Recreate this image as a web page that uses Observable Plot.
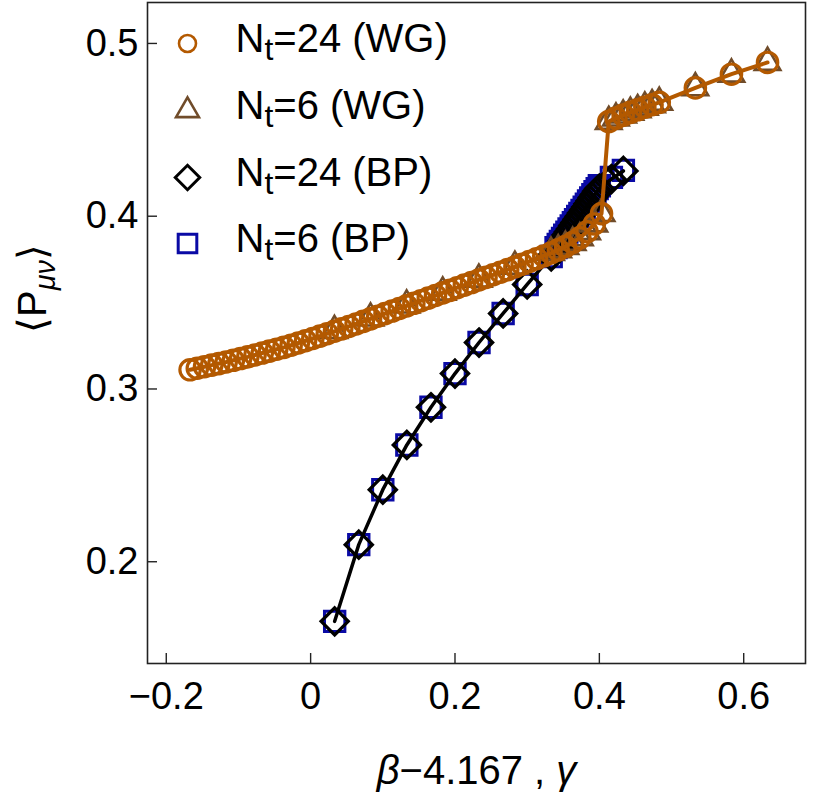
<!DOCTYPE html>
<html><head><meta charset="utf-8">
<script src="https://cdn.jsdelivr.net/npm/d3@7"></script>
<script src="https://cdn.jsdelivr.net/npm/@observablehq/plot@0.6"></script>
<style>body{margin:0;background:#fff}</style>
</head><body><div id="chart"></div>
<script>
// ---- data ----
const wg24X = [-0.167,-0.157,-0.147,-0.137,-0.127,-0.117,-0.107,-0.097,-0.087,-0.077,
  -0.067,-0.057,-0.047,-0.037,-0.027,-0.017,-0.007,0.003,0.013,0.023,
  0.033,0.043,0.053,0.063,0.073,0.083,0.093,0.103,0.113,0.123,
  0.133,0.143,0.153,0.163,0.173,0.183,0.193,0.203,0.213,0.223,
  0.233,0.243,0.253,0.263,0.273,0.283,0.293,0.303,0.313,0.323,
  0.333,0.343,0.353,0.363,0.373,0.383,0.393,0.403,
  0.413,0.423,0.433,0.443,0.453,0.463,0.473,0.483,0.533,0.583,0.633];
const wg24Y = [0.3111,0.3120,0.3129,0.3138,0.3147,0.3156,0.3166,0.3176,0.3186,0.3197,
  0.3208,0.3219,0.3230,0.3241,0.3253,0.3266,0.3279,0.3292,0.3306,0.3320,
  0.3334,0.3348,0.3362,0.3376,0.3391,0.3406,0.3421,0.3436,0.3451,0.3466,
  0.3481,0.3496,0.3511,0.3526,0.3541,0.3556,0.3571,0.3586,0.3601,0.3616,
  0.3631,0.3646,0.3661,0.3676,0.3691,0.3706,0.3722,0.3738,0.3754,0.3770,
  0.3787,0.3805,0.3825,0.3848,0.3875,0.3910,0.3955,0.4015,
  0.4548,0.4568,0.4585,0.4601,0.4616,0.4631,0.4645,0.4659,0.4743,0.4822,0.4890];
const wg6X = [0.033,0.083,0.133,0.183,0.233,0.283,0.333,
  0.343,0.353,0.363,0.373,0.383,0.393,0.403,
  0.413,0.423,0.433,0.443,0.453,0.463,0.473,0.483,0.533,0.583,0.633];
const wg6Y = [0.3338,0.3410,0.3485,0.3560,0.3635,0.3710,0.3790,
  0.3805,0.3825,0.3848,0.3875,0.3910,0.3955,0.4015,
  0.4548,0.4568,0.4585,0.4601,0.4616,0.4631,0.4645,0.4659,0.4743,0.4822,0.4890];
const bpX = [0.0333,0.0667,0.1000,0.1333,0.1667,0.2000,0.2333,0.2667,0.3000,0.3333,
  0.340,0.343,0.346,0.349,0.352,0.355,0.358,0.361,0.364,0.367,0.370,0.373,0.376,0.379,
  0.382,0.385,0.388,0.391,0.394,0.397,0.400,0.4167,0.4333];
const bp24Y = [0.1655,0.2099,0.2417,0.2676,0.2894,0.3089,0.3269,0.3437,0.3605,0.3767,
  0.3802,0.3820,0.3838,0.3856,0.3874,0.3892,0.3910,0.3928,0.3946,0.3964,0.3982,0.4000,0.4018,0.4036,
  0.4054,0.4072,0.4090,0.4108,0.4126,0.4144,0.4160,0.4215,0.4262];
const bp6Y = [0.1655,0.2099,0.2417,0.2676,0.2894,0.3089,0.3269,0.3437,0.3605,0.3767,
  0.3818,0.3836,0.3854,0.3872,0.3890,0.3908,0.3926,0.3944,0.3962,0.3980,0.3998,0.4016,0.4034,0.4052,
  0.4070,0.4088,0.4106,0.4124,0.4142,0.4160,0.4176,0.4225,0.4265];
const xTicks = [-0.2, 0, 0.2, 0.4, 0.6];
const yTicks = [0.2, 0.3, 0.4, 0.5];
const legendMain = ["N", "N", "N", "N"];
const legendSub = ["t", "t", "t", "t"];
const legendRest = ["=24 (WG)", "=6 (WG)", "=24 (BP)", "=6 (BP)"];
const xLabel = ["\u03b2", "\u22124.167 , ", "\u03b3"];
const yLabel = ["\u27e8P", "\u03bc\u03bd", "\u27e9"];

// ---- styling ----
const ORANGE = "#b35900", BROWN = "#704c2a", BLUE = "#0a0aa5", BLACK = "#000";
const wg24 = wg24X.map((x, i) => ({x, y: wg24Y[i]}));
const wg6 = wg6X.map((x, i) => ({x, y: wg6Y[i]}));
const bp24 = bpX.map((x, i) => ({x, y: bp24Y[i]}));
const bp6 = bpX.map((x, i) => ({x, y: bp6Y[i]}));
const fmt = d => d === 0 ? "0" : (d < 0 ? "\u2212" : "") + Math.abs(d).toFixed(1);

const legendMarks = [
  {symbol: "circle", r: 8.5, stroke: ORANGE, sw: 2.6},
  {symbol: "triangle", r: 8.5, stroke: BROWN, sw: 2.6},
  {symbol: "diamond2", r: 11, stroke: BLACK, sw: 3},
  {symbol: "square", r: 10.5, stroke: BLUE, sw: 3}
];
const rowsDy = [41, 108, 175, 241];

const marks = [
  Plot.tickX(xTicks, {x: d => d, insetTop: 651, stroke: "#222", strokeWidth: 1.4}),
  Plot.tickY(yTicks, {y: d => d, insetRight: 648, stroke: "#222", strokeWidth: 1.4}),
  Plot.text(xTicks, {x: d => d, text: fmt, frameAnchor: "bottom", lineAnchor: "top", dy: 19, fontSize: 38}),
  Plot.text(yTicks, {y: d => d, text: fmt, frameAnchor: "left", textAnchor: "end", dx: -9, fontSize: 38}),
  // BP
  Plot.dot(bp6, {x: "x", y: "y", symbol: "square", r: 11.5, stroke: BLUE, strokeWidth: 3, fill: "none"}),
  Plot.dot(bp24, {x: "x", y: "y", symbol: "diamond2", r: 12.2, stroke: BLACK, strokeWidth: 3.3, fill: "none"}),
  Plot.line(bp24, {x: "x", y: "y", stroke: BLACK, strokeWidth: 3.5}),
  // WG
  Plot.dot(wg6, {x: "x", y: "y", symbol: "triangle", r: 9.5, stroke: BROWN, strokeWidth: 2.6, fill: "none"}),
  Plot.dot(wg24, {x: "x", y: "y", symbol: "circle", r: 10.2, stroke: ORANGE, strokeWidth: 3.2, fill: "none"}),
  Plot.line(wg24, {x: "x", y: "y", stroke: ORANGE, strokeWidth: 4}),
  Plot.frame({stroke: "#222", strokeWidth: 1.6}),
  // axis titles
  Plot.text([xLabel.join("")], {frameAnchor: "bottom", dy: 108, lineAnchor: "middle", fontSize: 40}),
  Plot.text([yLabel.join("")], {frameAnchor: "left", dx: -114, rotate: -90, lineAnchor: "middle", fontSize: 40})
];
legendMarks.forEach((m, i) => {
  marks.push(Plot.dot([0], {frameAnchor: "top-left", dx: 40, dy: rowsDy[i], symbol: m.symbol, r: m.r, stroke: m.stroke, strokeWidth: m.sw, fill: "none"}));
  marks.push(Plot.text([legendMain[i] + legendSub[i] + legendRest[i]], {frameAnchor: "top-left", dx: 88, dy: rowsDy[i] - 4, textAnchor: "start", lineAnchor: "middle", fontSize: 40}));
});

const svg = Plot.plot({
  width: 813, height: 797,
  marginLeft: 147, marginRight: 8, marginTop: 2, marginBottom: 134,
  style: {fontFamily: "'Liberation Sans', Arial, Helvetica, sans-serif", fontSize: "38px", color: "#000", background: "#fff"},
  x: {domain: [-0.226, 0.6856], axis: null},
  y: {domain: [0.1411, 0.5237], axis: null},
  marks
});

// rich text: subscripts and italics (matched by content)
d3.select(svg).selectAll("text").each(function () {
  const t = d3.select(this);
  const s = this.textContent;
  const li = legendMain.findIndex((m, i) => m + legendSub[i] + legendRest[i] === s);
  if (li >= 0) {
    t.text(null);
    t.append("tspan").text(legendMain[li]);
    t.append("tspan").attr("dy", 8).attr("font-size", "0.8em").text(legendSub[li]);
    t.append("tspan").attr("dy", -8).text(legendRest[li]);
  } else if (s === xLabel.join("")) {
    t.text(null);
    t.append("tspan").attr("font-style", "italic").text(xLabel[0]);
    t.append("tspan").text(xLabel[1]);
    t.append("tspan").attr("font-style", "italic").text(xLabel[2]);
  } else if (s === yLabel.join("")) {
    t.text(null);
    t.append("tspan").text(yLabel[0]);
    t.append("tspan").attr("dy", 9).attr("font-size", "0.72em").attr("font-style", "italic").text(yLabel[1]);
    t.append("tspan").attr("dy", -9).text(yLabel[2]);
  }
});
document.getElementById("chart").appendChild(svg);
</script>
</body></html>
